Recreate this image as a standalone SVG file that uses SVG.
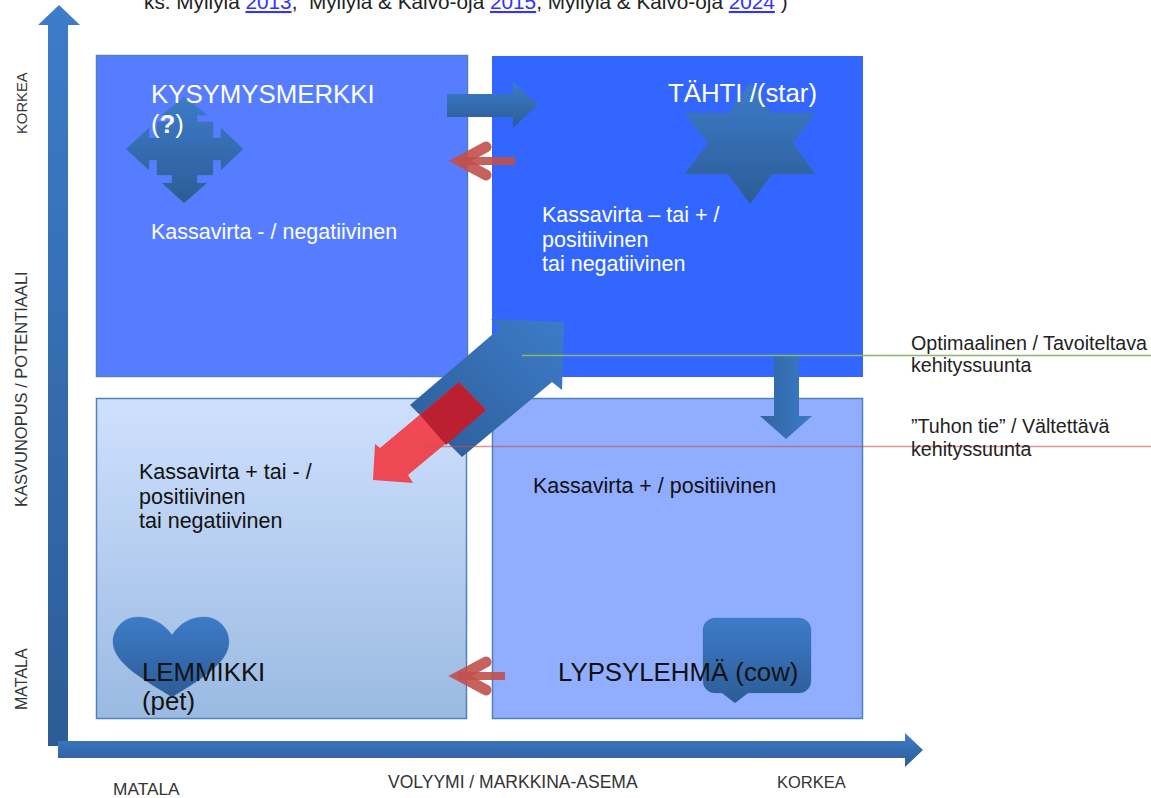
<svg xmlns="http://www.w3.org/2000/svg" width="1151" height="798" viewBox="0 0 1151 798">
<style>
text{font-family:"Liberation Sans",Arial,sans-serif}
.w{fill:#fff}.k{fill:#111}
.big{font-size:25.8px}.mid{font-size:21.5px}.lab{font-size:19.7px;fill:#222}.ax{font-size:16.5px;fill:#333}
.icon{fill:url(#bv);stroke:#3f6f9f;stroke-width:.6;stroke-opacity:.5}
.box{stroke:#4f81bd;stroke-width:1.5}
.back{fill:none;stroke:#c0504d;stroke-opacity:.9;stroke-linecap:round;stroke-linejoin:miter}
</style>
<defs>
<linearGradient id="bv" x1="0" y1="0" x2="0" y2="1"><stop offset="0" stop-color="#3d7cc9"/><stop offset="1" stop-color="#2c5c96"/></linearGradient>
<linearGradient id="bh" x1="1" y1="0" x2="0" y2="0"><stop offset="0" stop-color="#3d7cc9"/><stop offset="1" stop-color="#2f649f"/></linearGradient>
<linearGradient id="bd" x1="1" y1="0" x2="0" y2="1"><stop offset="0" stop-color="#3d7cc9"/><stop offset="1" stop-color="#2c5c96"/></linearGradient>
<linearGradient id="pale" x1="0" y1="0" x2="0" y2="1"><stop offset="0" stop-color="#cfe0fd"/><stop offset="1" stop-color="#9abae2"/></linearGradient>
</defs>

<text x="144" y="9" font-size="20.75" fill="#222" xml:space="preserve">ks. Myllylä <tspan fill="#3333ff" text-decoration="underline">2013</tspan>,  Myllylä &amp; Kalvo-oja <tspan fill="#3333ff" text-decoration="underline">2015</tspan>, Myllylä &amp; Kalvo-oja <tspan fill="#3333ff" text-decoration="underline">2024</tspan> )</text>

<g id="node-kysymysmerkki">
<rect class="box" x="96.500" y="55.500" width="371" height="321" fill="#567dff"/>
<polygon class="icon" points="184,97 207,115 197,115 197,122 213,122 213,138 221,138 221,128 243,149 221,170 221,160 213,160 213,175 197,175 197,183 207,183 184,203 162,183 172,183 172,175 157,175 157,160 149,160 149,170 126,149 149,128 149,138 157,138 157,122 172,122 172,115 162,115"/>
<text class="w big" x="151" y="103">KYSYMYSMERKKI</text>
<text class="w big" x="151" y="133">(<tspan font-weight="bold">?</tspan>)</text>
<text class="w mid" x="151" y="239">Kassavirta - / negatiivinen</text>
</g>

<g id="node-tahti">
<rect x="492" y="56" width="371" height="321" fill="#3366ff"/>
<polygon class="icon" points="750,83 772,113 815,113 793,143 815,174 772,174 750,204 728,174 685,174 708,143 685,113 728,113"/>
<text class="w big" x="668" y="102">TÄHTI /(star)</text>
<text class="w mid" x="542" y="222">Kassavirta – tai + /</text>
<text class="w mid" x="542" y="247">positiivinen</text>
<text class="w mid" x="542" y="271">tai negatiivinen</text>
</g>

<g id="node-lemmikki">
<rect class="box" x="96.500" y="398.500" width="370" height="320" fill="url(#pale)"/>
<path class="icon" d="M172,635 C163,622 150,617 138,617 C123,617 113,629 113,642 C113,664 148,682 172,697 C196,682 229,664 229,642 C229,629 219,617 204,617 C192,617 181,622 172,635 Z"/>
<text class="k big" x="142" y="681">LEMMIKKI</text>
<text class="k big" x="142" y="710">(pet)</text>
<text class="k mid" x="139" y="479">Kassavirta + tai - /</text>
<text class="k mid" x="139" y="504">positiivinen</text>
<text class="k mid" x="139" y="528">tai negatiivinen</text>
</g>

<g id="node-lypsylehma">
<rect class="box" x="492.500" y="398.500" width="370" height="320" fill="#91adff"/>
<path class="icon" d="M715,618 H799 A12,12 0 0 1 811,630 V681 A12,12 0 0 1 799,693 H748 L735,703 L722,693 H715 A12,12 0 0 1 703,681 V630 A12,12 0 0 1 715,618 Z"/>
<text class="k big" x="558" y="681">LYPSYLEHMÄ (cow)</text>
<text class="k mid" x="533" y="493">Kassavirta + / positiivinen</text>
</g>

<g id="connectors">
<polygon fill="url(#bv)" points="48,746 48,25 38,25 59,5 80,25 68,25 68,746"/>
<polygon fill="url(#bv)" points="58,741 905,741 905,733 923,750 905,767 905,758 58,758"/>
<polygon fill="url(#bv)" points="447,94 513,94 513,82 538,105 513,128 513,117 447,117"/>
<g class="back"><path d="M458,161 H515" stroke-width="8" stroke-linecap="butt"/><path d="M486,147 L460,161 L486,175" stroke-width="11"/></g>
<g class="back"><path d="M458,676 H505" stroke-width="8" stroke-linecap="butt"/><path d="M486,662 L460,676 L486,690" stroke-width="11"/></g>
<polygon fill="url(#bd)" points="410,405 500,328 491,319 564,322 562,390 552,382 462,457"/>
<polygon fill="#f0404c" fill-opacity=".95" points="459,382 486,410 408,475 413,483 373,480 375,444 380,448"/>
<polygon fill="#bb2032" points="459,382 486,410 446,445 420,415"/>
<polygon fill="url(#bh)" points="774,355 799,355 799,416 812,416 786,439 760,416 774,416"/>
<line x1="522" y1="355.500" x2="1151" y2="355.500" stroke="#8fb56a" stroke-width="1.500"/>
<line x1="423" y1="446.500" x2="1151" y2="446.500" stroke="#c0504d" stroke-opacity=".6" stroke-width="1.500"/>
</g>

<text class="lab" x="911" y="350">Optimaalinen / Tavoiteltava</text>
<text class="lab" x="911" y="372">kehityssuunta</text>
<text class="lab" x="911" y="433">”Tuhon tie” / Vältettävä</text>
<text class="lab" x="911" y="456">kehityssuunta</text>

<text class="ax" style="font-size:14.8px" transform="translate(27,134) rotate(-90)">KORKEA</text>
<text class="ax" transform="translate(27,507) rotate(-90)">KASVUNOPUS / POTENTIAALI</text>
<text class="ax" style="font-size:16px" transform="translate(27,710) rotate(-90)">MATALA</text>
<text class="ax" style="font-size:17.3px" x="113" y="795">MATALA</text>
<text class="ax" style="font-size:17.5px" x="388" y="788">VOLYYMI / MARKKINA-ASEMA</text>
<text class="ax" x="777" y="788">KORKEA</text>
</svg>
